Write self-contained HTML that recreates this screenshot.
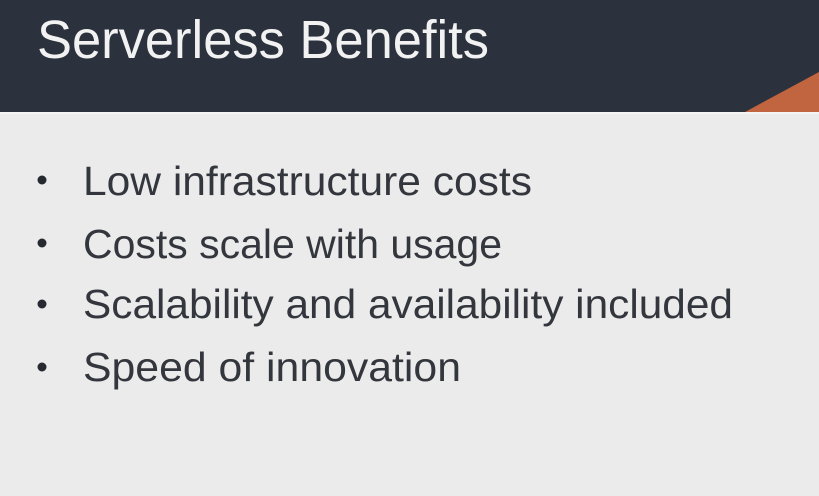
<!DOCTYPE html>
<html><head><style>
html,body{margin:0;padding:0;width:819px;height:496px;overflow:hidden;background:#ebebeb;}
svg{display:block}
text{font-family:"Liberation Sans",sans-serif;}
</style></head><body>
<svg width="819" height="496" viewBox="0 0 819 496" xmlns="http://www.w3.org/2000/svg">
<rect x="0" y="0" width="819" height="496" fill="#ebebeb"/>
<rect x="0" y="0" width="819" height="112" fill="#2b323d"/>
<polygon points="745,112 819,72 819,112" fill="#c0653f"/>
<rect x="0" y="112" width="819" height="2" fill="#f4f4f4"/>
<text x="37" y="58" font-size="54" fill="#f2f2f2" textLength="452" lengthAdjust="spacingAndGlyphs">Serverless Benefits</text>
<g fill="#262a30">
<circle cx="42" cy="180" r="4.5"/>
<circle cx="42" cy="243" r="4.5"/>
<circle cx="42" cy="304" r="4.5"/>
<circle cx="42" cy="367" r="4.5"/>
</g>
<g font-size="41" fill="#33373d">
<text x="83" y="195" textLength="449" lengthAdjust="spacingAndGlyphs">Low infrastructure costs</text>
<text x="83" y="258" textLength="419" lengthAdjust="spacingAndGlyphs">Costs scale with usage</text>
<text x="83" y="318" textLength="650" lengthAdjust="spacingAndGlyphs">Scalability and availability included</text>
<text x="83" y="381" textLength="378" lengthAdjust="spacingAndGlyphs">Speed of innovation</text>
</g>
</svg>
</body></html>
